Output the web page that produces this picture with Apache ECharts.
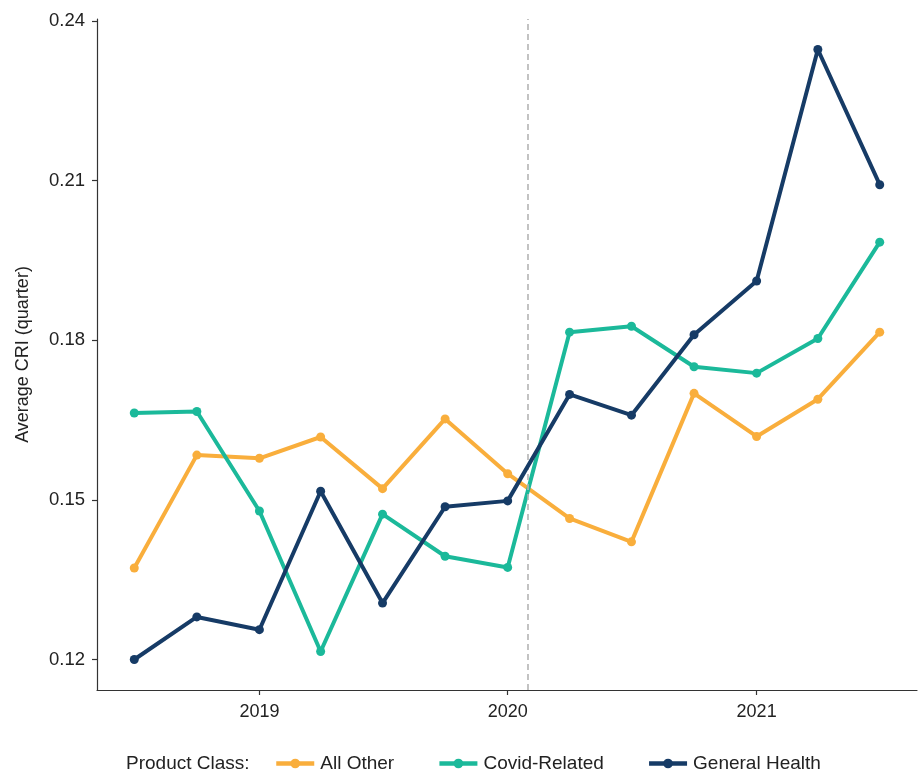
<!DOCTYPE html>
<html>
<head>
<meta charset="utf-8">
<script src="https://cdn.jsdelivr.net/npm/echarts@6/dist/echarts.min.js"></script>
<style>
html,body{margin:0;padding:0;background:#fff;}
#chart{width:920px;height:775px;}
</style>
</head>
<body>
<div id="chart"></div>
<script>
// ---- data ----
const quarters = ['2018-07-01','2018-10-01','2019-01-01','2019-04-01','2019-07-01','2019-10-01','2020-01-01','2020-04-01','2020-07-01','2020-10-01','2021-01-01','2021-04-01','2021-07-01'];
const allOther = [0.1372,0.1584,0.1578,0.1618,0.1521,0.1652,0.1549,0.1465,0.1421,0.1700,0.1619,0.1689,0.1815];
const covidRelated = [0.1663,0.1666,0.1479,0.1215,0.1473,0.1394,0.1373,0.1815,0.1826,0.1750,0.1738,0.1803,0.1984];
const generalHealth = [0.1200,0.1280,0.1256,0.1516,0.1306,0.1487,0.1498,0.1698,0.1659,0.1810,0.1911,0.2346,0.2092];
const seriesNames = ['All Other','Covid-Related','General Health'];
const yTicks = [0.12,0.15,0.18,0.21,0.24];
const xTickDates = ['2019-01-01','2020-01-01','2021-01-01'];
const covidStart = '2020-01-31';
const legendTitle = 'Product Class:';
const yAxisTitle = 'Average CRI (quarter)';

// ---- build ----
const colors = ['#F9AE3C','#1BB99A','#163B66'];
const toTs = s => { const [y,m,d] = s.split('-').map(Number); return Date.UTC(y,m-1,d); };
const xs = quarters.map(toTs);
const xSpan = xs[xs.length-1] - xs[0];
const xMin = xs[0] - 0.05*xSpan, xMax = xs[xs.length-1] + 0.05*xSpan;
const allVals = allOther.concat(covidRelated, generalHealth);
const vMin = Math.min(...allVals), vMax = Math.max(...allVals);
const ySpan = vMax - vMin;
const yMin = vMin - 0.05*ySpan, yMax = vMax + 0.05*ySpan;

const seriesVals = [allOther, covidRelated, generalHealth];
const font = 'Liberation Sans, Arial, sans-serif';

const series = seriesVals.map((vals, i) => ({
  name: seriesNames[i],
  type: 'line',
  data: vals.map((v, k) => [xs[k], v]),
  symbol: 'circle',
  symbolSize: 9,
  showSymbol: true,
  lineStyle: {width: 4, color: colors[i]},
  itemStyle: {color: colors[i]},
  z: 3 + i,
  animation: false
}));
series[0].markLine = {
  silent: true,
  symbol: 'none',
  label: {show: false},
  lineStyle: {color: '#B4B4B4', type: [6,4], width: 1.6},
  data: [{xAxis: toTs(covidStart)}],
  animation: false
};

const xTicks = xTickDates.map(toTs);
const chart = echarts.init(document.getElementById('chart'), null, {renderer: 'canvas'});
chart.setOption({
  backgroundColor: '#fff',
  animation: false,
  color: colors,
  grid: {left: 97, right: 3, top: 19, bottom: 85, containLabel: false},
  xAxis: {
    type: 'value',
    min: xMin, max: xMax,
    axisLine: {show: true, lineStyle: {color: '#333', width: 1.2}},
    axisTick: {show: true, length: 5, lineStyle: {color: '#333', width: 1.2}, customValues: xTicks},
    axisLabel: {
      customValues: xTicks,
      formatter: v => String(new Date(v).getUTCFullYear()),
      fontFamily: font, fontSize: 18, color: '#222', margin: 13
    },
    splitLine: {show: false}
  },
  yAxis: {
    type: 'value',
    min: yMin, max: yMax,
    name: yAxisTitle,
    nameLocation: 'middle',
    nameGap: 65,
    nameRotate: 90,
    nameTextStyle: {fontFamily: font, fontSize: 18, color: '#222'},
    axisLine: {show: true, lineStyle: {color: '#333', width: 1.2}},
    axisTick: {show: true, length: 5, lineStyle: {color: '#333', width: 1.2}, customValues: yTicks},
    axisLabel: {
      customValues: yTicks,
      formatter: v => v.toFixed(2),
      fontFamily: font, fontSize: 18.5, color: '#222', margin: 12
    },
    splitLine: {show: false}
  },
  legend: {
    data: seriesNames,
    left: 274,
    top: 754,
    padding: 0,
    itemWidth: 38,
    itemHeight: 12,
    itemGap: 43,
    lineStyle: {width: 4.5},
    textStyle: {fontFamily: font, fontSize: 19, color: '#222', padding: [0,0,0,1]}
  },
  graphic: [{
    type: 'text',
    left: 126,
    top: 754,
    style: {text: legendTitle, font: '19px ' + font, fill: '#222'}
  }],
  series: series
});
</script>
</body>
</html>
